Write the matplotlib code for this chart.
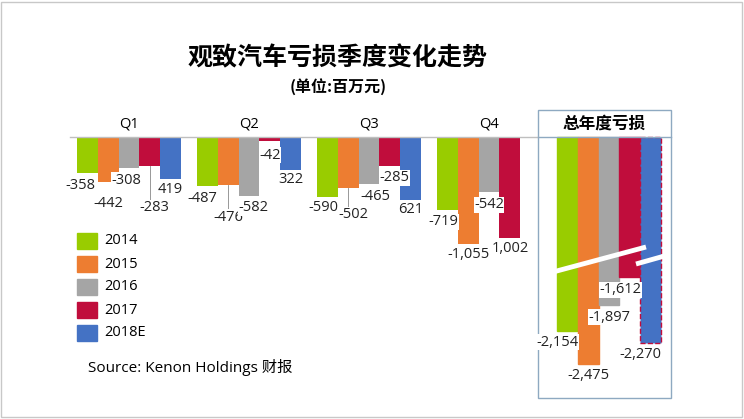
import matplotlib
matplotlib.use("Agg")
import matplotlib.pyplot as plt
from matplotlib.patches import Rectangle

years = ["2014", "2015", "2016", "2017", "2018E"]
quarters = ["Q1", "Q2", "Q3", "Q4"]
q_values = [
    [-358, -487, -590, -719],     # 2014
    [-442, -476, -502, -1055],    # 2015
    [-308, -582, -465, -542],     # 2016
    [-283, -42, -285, -1002],     # 2017
    [-419, -322, -621, None],     # 2018E
]
q_labels = [
    ["-358", "-487", "-590", "-719"],
    ["-442", "-476", "-502", "-1,055"],
    ["-308", "-582", "-465", "-542"],
    ["-283", "-42", "-285", "1,002"],
    ["419", "322", "621", None],
]
annual_values = [-2154, -2475, -1897, -1612, -2270]
annual_labels = ["-2,154", "-2,475", "-1,897", "-1,612", "-2,270"]
colors = ["#99cc00", "#ed7d31", "#a5a5a5", "#c00d3c", "#4472c4"]

# style / layout
PXU = 0.101          # pixels per value unit
BASE = 137           # baseline pixel row
BREAK = 230          # axis-break offset for annual bars
BW = 20.8
# label pixel offsets below bar ends (dx, dy, leader) per series/quarter
q_off = [
    [(-7, 12, 0), (-5, 12, 0), (-4, 11, 0), (-4, 12, 0)],
    [(0, 22, 0), (0, 32, 1), (5, 27, 1), (0, 11, 0)],
    [(-3, 12, 0), (4, 12, 0), (6, 13, 0), (0, 13, 0)],
    [(5, 42, 1), (0, 14, 0), (5, 12, 0), (0, 10, 0)],
    [(0, 10, 0), (0, 10, 0), (0, 10, 0), None],
]
ann_off = [(-10, 11), (0, 12), (0, 12), (-9, 13), (-10, 11)]

def vy(px):
    return -(px - BASE) / PXU

fig = plt.figure(figsize=(7.44, 4.19), dpi=100)
ax = fig.add_axes([0, 0, 1, 1])
ax.set_xlim(0, 744)
ax.set_ylim(vy(419), vy(0))
ax.axis("off")
fs = "Open Sans"
cjk = "Noto Sans CJK SC"

ax.add_patch(Rectangle((1, vy(417)), 741, vy(2) - vy(417), fill=False, ec="#c8c8c8", lw=1))

for s in range(5):
    for g in range(4):
        v = q_values[s][g]
        if v is None:
            continue
        x = 129 + 120 * g + (s - 2) * BW
        ax.bar(x, v, width=BW, color=colors[s], zorder=1)
        dx, dy, lead = q_off[s][g]
        yl = v - dy / PXU
        if lead:
            ax.plot([x, x], [v, yl + 6 / PXU], color="#888888", lw=0.6, zorder=2)
        ax.text(x + dx, yl, q_labels[s][g], ha="center", va="center", fontsize=10.5,
                family=fs, color="#222222", zorder=3,
                bbox=dict(fc="white", ec="none", pad=0.3))
    a = annual_values[s]
    x = 129 + 120 * 4 + (s - 2) * BW
    h = a + BREAK
    ax.bar(x, h, width=BW, color=colors[s],
           edgecolor=("#c00d3c" if s == 4 else colors[s]),
           linestyle="--" if s == 4 else "-", lw=1, zorder=1)
    dx, dy = ann_off[s]
    ax.text(x + dx, h - dy / PXU, annual_labels[s], ha="center", va="center",
            fontsize=10.5, family=fs, color="#222222", zorder=3,
            bbox=dict(fc="white", ec="none", pad=0.3))

# break lines
ax.plot([553, 646], [vy(272), vy(247)], color="white", lw=3.5, solid_capstyle="butt", zorder=2)
ax.plot([636, 668], [vy(264), vy(255)], color="white", lw=3.5, solid_capstyle="butt", zorder=2)

ax.plot([70, 538], [0, 0], color="#bfbfbf", lw=1)
for g, q in enumerate(quarters):
    ax.text(129 + 120 * g, vy(124), q, ha="center", va="center", fontsize=10.5, family=fs)

ax.add_patch(Rectangle((538, vy(398)), 133, vy(110) - vy(398), fill=False, ec="#8ea9c1", lw=1))
ax.plot([538, 671], [0, 0], color="#8ea9c1", lw=1)
ax.text(604, vy(124), "总年度亏损", ha="center", va="center", fontsize=12,
        family=cjk, weight="bold")

ax.text(338, vy(58), "观致汽车亏损季度变化走势", ha="center", va="center",
        fontsize=18, family=cjk, weight="bold")
ax.text(338, vy(87), "(单位:百万元)", ha="center", va="center",
        fontsize=11.5, family=cjk, weight="bold")

for i, yr in enumerate(years):
    yc = 241 + 23 * i
    ax.add_patch(Rectangle((77, vy(yc + 8)), 20, vy(yc - 8) - vy(yc + 8), color=colors[i]))
    ax.text(104, vy(yc), yr, ha="left", va="center", fontsize=10.5, family=fs)

ax.text(88, vy(368), "Source: Kenon Holdings 财报", ha="left", va="center",
        fontsize=11, family=[fs, cjk])

fig.savefig("out.png", dpi=100)
